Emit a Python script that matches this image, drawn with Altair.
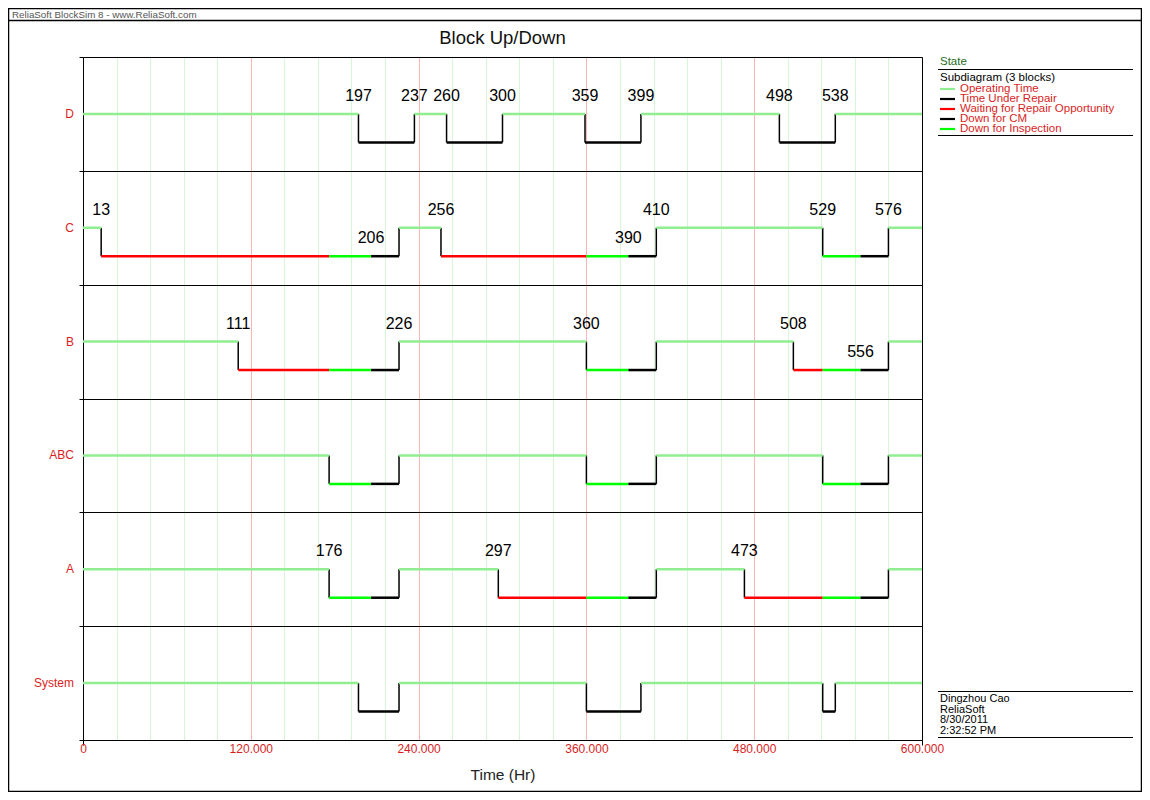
import altair as alt
import pandas as pd

# ---------------- data ----------------
ROWS = ["System", "A", "ABC", "B", "C", "D"]  # bottom to top

OP = "Operating Time"
TR = "Time Under Repair"
WR = "Waiting for Repair Opportunity"
CM = "Down for CM"
IN = "Down for Inspection"

STATES = [OP, TR, WR, CM, IN]
STATE_COLORS = ["#90ee90", "#000000", "#ff0000", "#000000", "#00ff00"]

D_times = [0, 197, 237, 260, 300, 359, 399, 498, 538, 600]
D_states = [OP, CM, OP, CM, OP, CM, OP, CM, OP]
C_times = [0, 13, 176, 206, 226, 256, 360, 390, 410, 529, 556, 576, 600]
C_states = [OP, WR, IN, TR, OP, WR, IN, TR, OP, IN, TR, OP]
B_times = [0, 111, 176, 206, 226, 360, 390, 410, 508, 529, 556, 576, 600]
B_states = [OP, WR, IN, TR, OP, IN, TR, OP, WR, IN, TR, OP]
ABC_times = [0, 176, 206, 226, 360, 390, 410, 529, 556, 576, 600]
ABC_states = [OP, IN, TR, OP, IN, TR, OP, IN, TR, OP]
A_times = [0, 176, 206, 226, 297, 360, 390, 410, 473, 529, 556, 576, 600]
A_states = [OP, IN, TR, OP, WR, IN, TR, OP, WR, IN, TR, OP]
SYS_times = [0, 197, 226, 360, 399, 529, 538, 600]
SYS_states = [OP, CM, OP, CM, OP, CM, OP]

D_labels = [197, 237, 260, 300, 359, 399, 498, 538]
C_labels = [13, 206, 256, 390, 410, 529, 576]
B_labels = [111, 226, 360, 508, 556]
ABC_labels = []
A_labels = [176, 297, 473]
SYS_labels = []

X_TICKS = list(range(0, 601, 24))
LEGEND_ITEMS = [OP, TR, WR, CM, IN]
FOOTER_LINES = ["Dingzhou Cao", "ReliaSoft", "8/30/2011", "2:32:52 PM"]

ROW_DATA = {
    "System": (SYS_times, SYS_states, SYS_labels),
    "A": (A_times, A_states, A_labels),
    "ABC": (ABC_times, ABC_states, ABC_labels),
    "B": (B_times, B_states, B_labels),
    "C": (C_times, C_states, C_labels),
    "D": (D_times, D_states, D_labels),
}

# ---------------- tables ----------------
segs, verts, labs, names = [], [], [], []
for i, row in enumerate(ROWS):
    times, states, labels = ROW_DATA[row]
    up, down = 4 * i + 2, 4 * i + 1
    names.append({"row": row, "level": up})
    trans = set()
    for k, st in enumerate(states):
        segs.append({"row": row, "start": times[k], "end": times[k + 1],
                     "state": st, "level": up if st == OP else down})
        if k > 0 and (states[k - 1] == OP) != (st == OP):
            trans.add(times[k])
            verts.append({"row": row, "t": times[k], "y_up": up, "y_down": down})
    for t in labels:
        labs.append({"row": row, "t": t, "level": up if t in trans else down,
                     "label": str(t)})

seg_df = pd.DataFrame(segs)
vert_df = pd.DataFrame(verts)
lab_df = pd.DataFrame(labs)
name_df = pd.DataFrame(names)

W, H = 839, 683
FONT = "Liberation Sans"
RED = "#d81e1e"

X_SCALE = alt.Scale(domain=[0, 600], nice=False, zero=False)
Y_SCALE = alt.Scale(domain=[0, 24], nice=False)

X_AXIS = alt.Axis(
    values=X_TICKS, title="Time (Hr)",
    labelExpr="datum.value % 120 === 0 ? (datum.value === 0 ? '0' : format(datum.value, '.3f')) : ''",
    labelColor=RED, labelFont=FONT, labelFontSize=12, labelOverlap=False, labelFlush=False,
    labelPadding=-2,
    grid=True,
    gridColor={"condition": [
        {"test": "datum.value === 0 || datum.value === 600", "value": "#000000"},
        {"test": "datum.value % 120 === 0", "value": "#ffb4b4"},
    ], "value": "#d6f6d6"},
    gridWidth=1, gridOpacity=1,
    ticks=True, tickSize=5,
    tickColor={"condition": {"test": "datum.value === 0 || datum.value === 600", "value": "#000000"}, "value": "transparent"},
    domainColor="#000000", domainWidth=1,
    titleFont=FONT, titleFontSize=15.5, titleFontWeight="normal", titleColor="#222222",
    titlePadding=13,
)
Y_AXIS = alt.Axis(
    values=list(range(0, 25, 4)), title=None, labels=False,
    grid=True, gridColor="#000000", gridOpacity=1, gridWidth=1,
    ticks=True, tickSize=4, tickColor="#000000",
    domainColor="#000000", domainWidth=1,
)

verticals = alt.Chart(vert_df).mark_rule(color="black", strokeWidth=1.5).encode(
    x=alt.X("t:Q", scale=X_SCALE, axis=X_AXIS),
    y=alt.Y("y_up:Q", scale=Y_SCALE, axis=Y_AXIS),
    y2="y_down:Q",
)

horizontals = alt.Chart(seg_df).mark_rule(strokeWidth=2.5, strokeCap="butt").encode(
    x=alt.X("start:Q", scale=X_SCALE, axis=X_AXIS),
    x2="end:Q",
    y=alt.Y("level:Q", scale=Y_SCALE, axis=Y_AXIS),
    color=alt.Color("state:N", scale=alt.Scale(domain=STATES, range=STATE_COLORS), legend=None),
)

value_labels = alt.Chart(lab_df).mark_text(
    font=FONT, fontSize=16, color="black", baseline="middle", align="center", dy=-18
).encode(
    x=alt.X("t:Q", scale=X_SCALE, axis=X_AXIS),
    y=alt.Y("level:Q", scale=Y_SCALE, axis=Y_AXIS),
    text="label:N",
)

row_names = alt.Chart(name_df).mark_text(
    font=FONT, fontSize=12, color=RED, align="right", baseline="middle"
).encode(
    x=alt.value(-9),
    y=alt.Y("level:Q", scale=Y_SCALE, axis=Y_AXIS),
    text="row:N",
)

# ---------------- decorations (pixel positions relative to the plot area) ----------------
def px(X):
    return X - 83


def py(Y):
    return Y - 57


deco_text = [
    {"text": "Block Up/Down", "x": px(502.5), "y": py(38), "size": 18.5, "color": "#111111", "align": "center"},
    {"text": "ReliaSoft BlockSim 8 - www.ReliaSoft.com", "x": px(12), "y": py(14.5), "size": 9.8, "color": "#555555", "align": "left"},
    {"text": "State", "x": px(940), "y": py(62), "size": 11.5, "color": "#1e6e1e", "align": "left"},
    {"text": "Subdiagram (3 blocks)", "x": px(940), "y": py(78), "size": 11.5, "color": "#000000", "align": "left"},
]
for k, item in enumerate(LEGEND_ITEMS):
    deco_text.append({"text": item, "x": px(960), "y": py(88.5 + 10 * k), "size": 11.5,
                      "color": RED, "align": "left"})
for k, line in enumerate(FOOTER_LINES):
    deco_text.append({"text": line, "x": px(940), "y": py(699 + 10.5 * k), "size": 11,
                      "color": "#000000", "align": "left"})
deco_text_df = pd.DataFrame(deco_text)

deco_left = alt.Chart(deco_text_df[deco_text_df["align"] == "left"]).mark_text(
    font=FONT, align="left", baseline="middle"
).encode(
    x=alt.X("x:Q", scale=None), y=alt.Y("y:Q", scale=None), text="text:N",
    size=alt.Size("size:Q", scale=None), color=alt.Color("color:N", scale=None),
)
deco_center = alt.Chart(deco_text_df[deco_text_df["align"] == "center"]).mark_text(
    font=FONT, align="center", baseline="middle"
).encode(
    x=alt.X("x:Q", scale=None), y=alt.Y("y:Q", scale=None), text="text:N",
    size=alt.Size("size:Q", scale=None), color=alt.Color("color:N", scale=None),
)

deco_lines = [
    # legend / footer separators
    {"x": px(938), "x2": px(1133), "y": py(69.5), "y2": py(69.5), "color": "#000000", "w": 1},
    {"x": px(938), "x2": px(1133), "y": py(135.5), "y2": py(135.5), "color": "#000000", "w": 1},
    {"x": px(938), "x2": px(1133), "y": py(691.5), "y2": py(691.5), "color": "#000000", "w": 1},
    {"x": px(938), "x2": px(1133), "y": py(737.5), "y2": py(737.5), "color": "#000000", "w": 1},
    # header line and outer frame
    {"x": px(8), "x2": px(1142), "y": py(20.5), "y2": py(20.5), "color": "#000000", "w": 1.5},
    {"x": px(8), "x2": px(1142), "y": py(8.5), "y2": py(8.5), "color": "#000000", "w": 1.5},
    {"x": px(8), "x2": px(1142), "y": py(791.5), "y2": py(791.5), "color": "#000000", "w": 1.5},
    {"x": px(8.5), "x2": px(8.5), "y": py(8), "y2": py(792), "color": "#000000", "w": 1.5},
    {"x": px(1141.5), "x2": px(1141.5), "y": py(8), "y2": py(792), "color": "#000000", "w": 1.5},
]
for k, (item, col) in enumerate(zip(STATES, STATE_COLORS)):
    deco_lines.append({"x": px(940), "x2": px(955), "y": py(89 + 10 * k), "y2": py(89 + 10 * k),
                       "color": col, "w": 2.2})
deco_lines_df = pd.DataFrame(deco_lines)

deco_rules = alt.Chart(deco_lines_df).mark_rule(strokeCap="butt").encode(
    x=alt.X("x:Q", scale=None), x2="x2:Q",
    y=alt.Y("y:Q", scale=None), y2="y2:Q",
    color=alt.Color("color:N", scale=None),
    strokeWidth=alt.StrokeWidth("w:Q", scale=None),
)

chart = alt.layer(
    verticals, horizontals, value_labels, row_names, deco_rules, deco_left, deco_center
).properties(
    width=W, height=H,
    autosize=alt.AutoSizeParams(type="none"),
    padding={"left": 75, "top": 49, "right": 220, "bottom": 52},
).configure_view(
    stroke="#000000", strokeWidth=1
).configure(
    background="white"
)

chart.save("out.html", embed_options={"renderer": "svg", "actions": False})
